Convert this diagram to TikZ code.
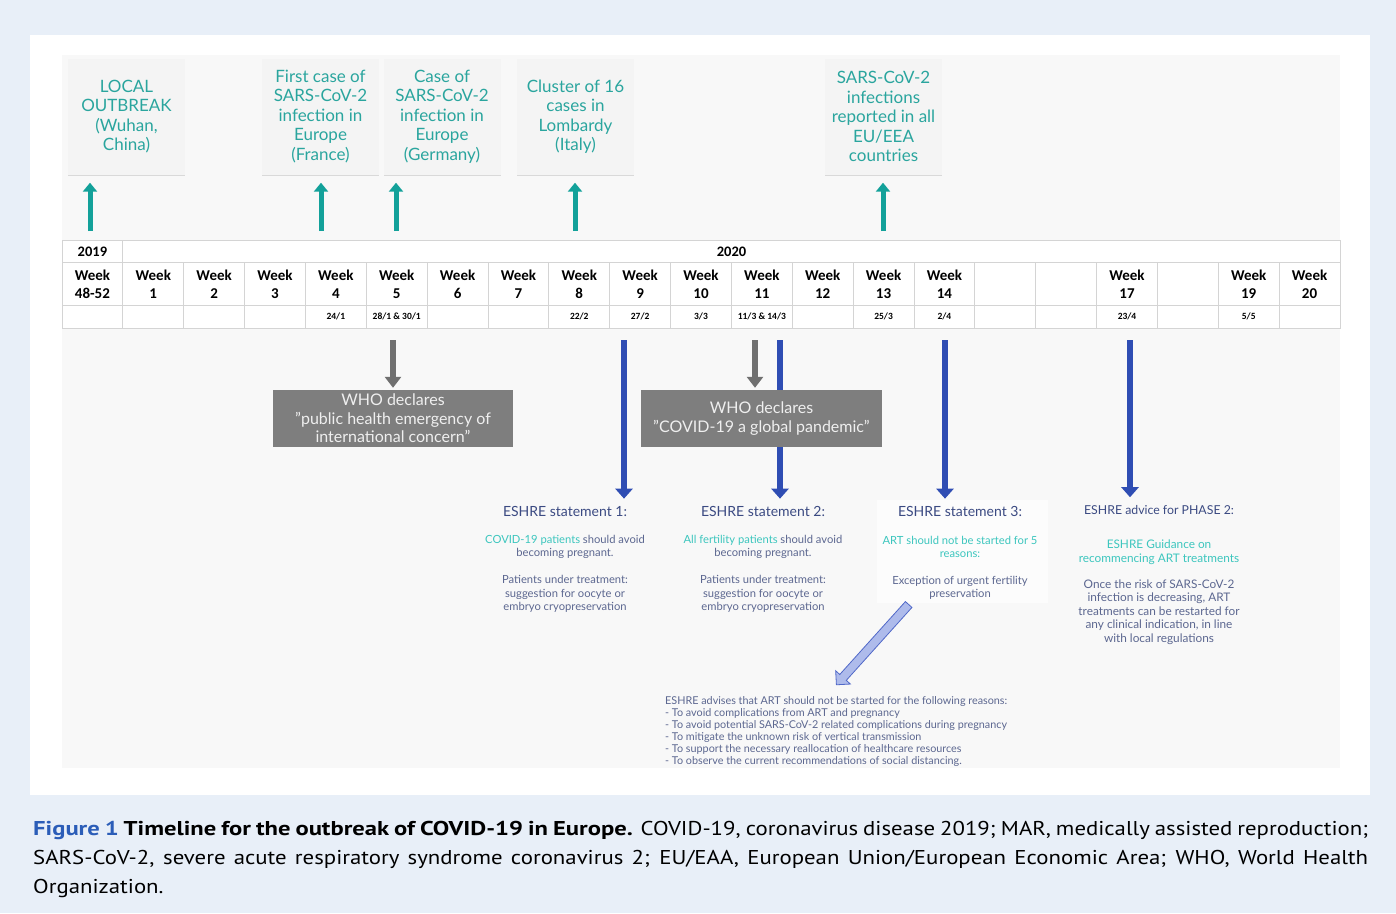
\documentclass[tikz,border=0pt]{standalone}
\usepackage{fontspec}
\setmainfont{Lato}
\newfontfamily\tabfont{Carlito}
\newfontfamily\capfont[FakeStretch=1.14, BoldFeatures={FakeStretch=1.23}]{PT Sans}
\usetikzlibrary{arrows.meta,shapes.arrows,shadows}
\definecolor{bgblue}{HTML}{E8EFF8}
\definecolor{panel}{HTML}{F8F8F8}
\definecolor{boxgray}{HTML}{F4F4F4}
\definecolor{tealtext}{HTML}{2AA59E}
\definecolor{tealarrow}{HTML}{13A19A}
\definecolor{bluearrow}{HTML}{2F4DB3}
\definecolor{grayarrow}{HTML}{707070}
\definecolor{graybox}{HTML}{7E7E7E}
\definecolor{tabline}{HTML}{D4D4D4}
\definecolor{stitle}{HTML}{3B4A82}
\definecolor{sbody}{HTML}{5C6790}
\definecolor{hteal}{HTML}{3CC6BE}
\definecolor{hollowfill}{HTML}{AEBBEB}
\definecolor{hollowdraw}{HTML}{5068C8}
\definecolor{figblue}{HTML}{2B5DB8}
\definecolor{s3fill}{HTML}{FCFCFC}
\begin{document}
\begin{tikzpicture}[x=1pt,y=-1pt,
  topbox/.style={fill=boxgray, minimum width=117pt, minimum height=116pt, align=center,
    text=tealtext, font=\fontsize{17}{19.5}\selectfont, inner sep=0pt,
    drop shadow={opacity=0.25, shadow xshift=0pt, shadow yshift=-1.5pt}},
  tealarr/.style={draw=tealarrow, line width=5pt, -{Triangle[width=14pt,length=9pt]}},
  bluearr/.style={draw=bluearrow, line width=6pt, -{Triangle[width=17pt,length=10pt]}},
  grayarr/.style={draw=grayarrow, line width=6pt, -{Triangle[width=16pt,length=11pt]}},
  yearcell/.style={font=\tabfont\bfseries\fontsize{14.5}{18}\selectfont, inner sep=0pt},
  weekcell/.style={font=\tabfont\bfseries\fontsize{15}{18}\selectfont, align=center, inner sep=0pt},
  datecell/.style={font=\tabfont\bfseries\fontsize{9.5}{10}\selectfont, inner sep=0pt},
  whobox/.style={fill=graybox, text=white!88!graybox, align=center, minimum width=240pt,
    minimum height=57pt, inner sep=0pt, font=\fontsize{16}{18.5}\selectfont},
  stmttitle/.style={text=stitle, font=\fontsize{14}{16}\selectfont, inner sep=1pt},
  stmtbody/.style={text=sbody, align=center, font=\fontsize{11.2}{13.5}\selectfont, inner sep=0pt},
  capline/.style={anchor=west, inner sep=0pt, font=\capfont\fontsize{20}{24}\selectfont}
]
\useasboundingbox (0,0) rectangle (1396,913);
% backgrounds
\fill[bgblue] (0,0) rectangle (1396,913);
\fill[white] (30,35) rectangle (1370,795);
\fill[panel] (62,55) rectangle (1340,768);

% top event boxes
\node[topbox] (b1) at (126.5,116.5) {LOCAL\\OUTBREAK\\(Wuhan,\\China)};
\node[topbox] (b2) at (320.5,116.5) {First case of\\SARS-CoV-2\\infection in\\Europe\\(France)};
\node[topbox] (b3) at (442,116.5) {Case of\\SARS-CoV-2\\infection in\\Europe\\(Germany)};
\node[topbox] (b4) at (575.5,116.5) {Cluster of 16\\cases in\\Lombardy\\(Italy)};
\node[topbox] (b5) at (883.5,116.5) {SARS-CoV-2\\infections\\reported in all\\EU/EEA\\countries};

\coordinate (t1) at (90,231);
\coordinate (t2) at (321,231);
\coordinate (t3) at (396,231);
\coordinate (t4) at (575,231);
\coordinate (t5) at (883,231);
\draw[tealarr, shorten >=8pt] (t1) -- (t1 |- b1.south);
\draw[tealarr, shorten >=8pt] (t2) -- (t2 |- b2.south);
\draw[tealarr, shorten >=8pt] (t3) -- (t3 |- b3.south);
\draw[tealarr, shorten >=8pt] (t4) -- (t4 |- b4.south);
\draw[tealarr, shorten >=8pt] (t5) -- (t5 |- b5.south);

% table
\draw[tabline, fill=white, line width=0.8pt] (62,240) rectangle (1340,328);
\draw[tabline, line width=0.8pt] (62,262) -- (1340,262);
\draw[tabline, line width=0.8pt] (62,305) -- (1340,305);
\draw[tabline, line width=0.8pt] (122.857,240) -- (122.857,262);
\foreach \i in {1,...,20} {
  \draw[tabline, line width=0.8pt] ({62+60.857*\i},262) -- ({62+60.857*\i},328);
}
\node[yearcell] (y2019) at (92.4,251.5) {2019};
\node[yearcell] (y2020) at (731.5,251.5) {2020};
\foreach \i/\t in {0/{Week\\48-52},1/{Week\\1},2/{Week\\2},3/{Week\\3},4/{Week\\4},5/{Week\\5},
  6/{Week\\6},7/{Week\\7},8/{Week\\8},9/{Week\\9},10/{Week\\10},11/{Week\\11},12/{Week\\12},
  13/{Week\\13},14/{Week\\14},17/{Week\\17},19/{Week\\19},20/{Week\\20}} {
  \node[weekcell] (w\i) at ({92.43+60.857*\i},284.5) {\t};
}
\foreach \i/\t in {4/{24/1},5/{28/1 \& 30/1},8/{22/2},9/{27/2},10/{3/3},11/{11/3 \& 14/3},
  13/{25/3},14/{2/4},17/{23/4},19/{5/5}} {
  \node[datecell] (d\i) at ({92.43+60.857*\i},316.5) {\t};
}

% statement titles and box
\node[stmttitle] (s1t) at (565,511) {ESHRE statement 1:};
\node[stmttitle] (s2t) at (763,511) {ESHRE statement 2:};
\node[fill=s3fill, minimum width=171pt, minimum height=103pt, inner sep=0pt] (s3bg) at (962.5,551.5) {};
\node[stmttitle] (s3t) at (960,511) {ESHRE statement 3:};
\node[stmttitle, font=\fontsize{12.3}{14}\selectfont] (p2t) at (1159,510) {ESHRE advice for PHASE 2:};

% blue arrows (behind WHO box)
\coordinate (bl1) at (624,340);
\coordinate (bl2) at (780,340);
\coordinate (bl3) at (945,340);
\coordinate (bl4) at (1130,340);
\draw[bluearr, shorten >=6pt] (bl1) -- (bl1 |- s1t.north);
\draw[bluearr, shorten >=6pt] (bl2) -- (bl2 |- s2t.north);
\draw[bluearr, shorten >=6pt] (bl3) -- (bl3 |- s3t.north);
\draw[bluearr, shorten >=7pt] (bl4) -- (bl4 |- p2t.north);

% WHO boxes
\node[whobox] (who1) at (393,418.5) {WHO declares\\\char34 public health emergency of\\international concern\char34};
\node[whobox, minimum width=241pt] (who2) at (761.5,418.5) {WHO declares\\\char34 COVID-19 a global pandemic\char34};
\coordinate (g1) at (393,340);
\coordinate (g2) at (755,340);
\draw[grayarr, shorten >=2pt] (g1) -- (g1 |- who1.north);
\draw[grayarr, shorten >=2pt] (g2) -- (g2 |- who2.north);

% statement bodies
\node[stmtbody] (s1a) at (565,547) {\textcolor{hteal}{COVID-19 patients} should avoid\\becoming pregnant.};
\node[stmtbody] (s1b) at (565,594) {Patients under treatment:\\suggestion for oocyte or\\embryo cryopreservation};
\node[stmtbody] (s2a) at (763,547) {\textcolor{hteal}{All fertility patients} should avoid\\becoming pregnant.};
\node[stmtbody] (s2b) at (763,594) {Patients under treatment:\\suggestion for oocyte or\\embryo cryopreservation};
\node[stmtbody, text=hteal] (s3a) at (960,547) {ART should not be started for 5\\reasons:};
\node[stmtbody] (s3b) at (960,588) {Exception of urgent fertility\\preservation};
\node[stmtbody, text=hteal, font=\fontsize{11.8}{13.5}\selectfont] (p2a) at (1159,552) {ESHRE Guidance on\\recommencing ART treatments};
\node[stmtbody, font=\fontsize{11.8}{13.4}\selectfont] (p2b) at (1159,612) {Once the risk of SARS-CoV-2\\infection is decreasing, ART\\treatments can be restarted for\\any clinical indication, in line\\with local regulations};

% reasons text
\node[anchor=north west, align=left, text=sbody, inner sep=0pt,
  font=\fontsize{10.8}{12.1}\selectfont] (reasons) at (665,696) {ESHRE advises that ART should not be started for the following reasons:\\
- To avoid complications from ART and pregnancy\\
- To avoid potential SARS-CoV-2 related complications during pregnancy\\
- To mitigate the unknown risk of vertical transmission\\
- To support the necessary reallocation of healthcare resources\\
- To observe the current recommendations of social distancing.};

% hollow arrow from statement 3 to reasons
\node[single arrow, draw=hollowdraw, fill=hollowfill, line width=0.8pt, inner sep=4pt,
  single arrow head extend=5.5pt, single arrow head indent=0pt, minimum height=108pt,
  rotate=228] (hollow) at (874,643) {};

% caption
\node[capline] (cap1) at (33,830) {\makebox[1335pt][s]{\textcolor{figblue}{\bfseries Figure 1} \textbf{Timeline for the outbreak of COVID-19 in Europe.} COVID-19, coronavirus disease 2019; MAR, medically assisted reproduction;}};
\node[capline] (cap2) at (33,859) {\makebox[1335pt][s]{SARS-CoV-2, severe acute respiratory syndrome coronavirus 2; EU/EAA, European Union/European Economic Area; WHO, World Health}};
\node[capline] (cap3) at (33,888) {Organization.};
\end{tikzpicture}
\end{document}
